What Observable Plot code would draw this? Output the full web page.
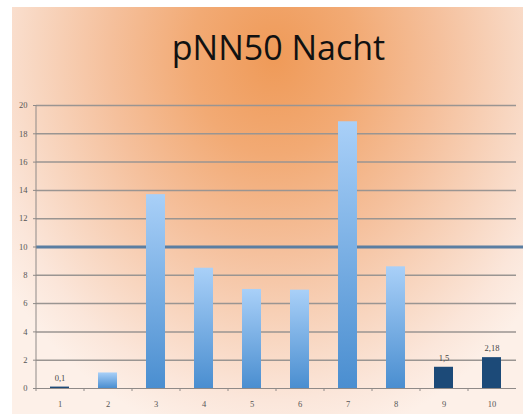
<!DOCTYPE html>
<html><head><meta charset="utf-8">
<script src="https://cdn.jsdelivr.net/npm/d3@7"></script>
<script src="https://cdn.jsdelivr.net/npm/@observablehq/plot@0.6"></script>
<style>
html,body{margin:0;padding:0;background:#fff;width:523px;height:414px;overflow:hidden;}
#bg{position:absolute;left:12px;top:7px;width:511px;height:407px;
background:radial-gradient(ellipse 330px 390px at 262px 50px,#ef9a58 0%,#f2aa74 25%,#f5c09c 50%,#f8d6c0 72%,#fbe6da 88%,#fdf0e8 100%);}
#title{position:absolute;left:0;top:24px;width:557px;text-align:center;font-family:"Open Sans",sans-serif;font-size:34px;color:#111;}
#chart{position:absolute;left:0;top:0;}
</style></head>
<body>
<div id="bg"></div>
<div id="title">pNN50 Nacht</div>
<div id="chart"></div>
<script>
const categories = [1,2,3,4,5,6,7,8,9,10];
const values = [0.1,1.1,13.7,8.5,7.0,6.95,18.85,8.6,1.5,2.18];
const darkBars = [1,9,10];
const labeledBars = [1,9,10];
const threshold = 10;
const yTicks = [0,2,4,6,8,10,12,14,16,18,20];

const data = categories.map((c,i)=>({cat:c, value:values[i], dark:darkBars.includes(c), label:labeledBars.includes(c) ? String(values[i]).replace(".", ",") : null}));

const W=523,H=414;
const chart = Plot.plot({
  width:W,height:H,
  marginLeft:36,marginRight:0,marginTop:105,marginBottom:26,
  style:{background:"transparent",fontFamily:"'Liberation Serif',serif",fontSize:"8.5px",color:"#555"},
  x:{type:"band",domain:categories,range:[36,516],paddingInner:0.6,paddingOuter:0.3,label:null},
  y:{domain:[0,20],label:null},
  marks:[
    Plot.ruleY(yTicks.filter(d=>d>0),{stroke:"#9a9592",strokeWidth:1.5,insetRight:7}),
    Plot.ruleY([threshold],{stroke:"#5a7ea2",strokeWidth:3}),
    Plot.barY(data,{x:"cat",y:"value",fill:d=>d.dark?"#1c4a78":"url(#barGrad)"}),
    Plot.text(data.filter(d=>d.label),{x:"cat",y:"value",text:"label",dy:-9,fill:"#444",fontSize:8.5}),
    Plot.ruleY([0],{stroke:"#8f8a88",strokeWidth:1.2,insetRight:7}),
    Plot.ruleX([0],{x:()=>categories[0],dx:-24,y1:0,y2:20,stroke:"#8f8a88",strokeWidth:1}),
    Plot.axisY({ticks:yTicks,tickSize:3,tickPadding:6,label:null,stroke:"#8f8a88",fill:"#555"}),
    Plot.axisX({tickSize:0,tickPadding:12,label:null,fill:"#555"}),
    Plot.axisX({tickSize:3,text:null,dx:-24,stroke:"#8f8a88"})
  ]
});
const svg = d3.select(chart);
const defs = svg.insert("defs",":first-child");
const g = defs.append("linearGradient").attr("id","barGrad").attr("x1",0).attr("y1",0).attr("x2",0).attr("y2",1);
g.append("stop").attr("offset","0%").attr("stop-color","#a9d0f8");
g.append("stop").attr("offset","100%").attr("stop-color","#4a8ed0");
document.getElementById("chart").appendChild(chart);
</script>
</body></html>
